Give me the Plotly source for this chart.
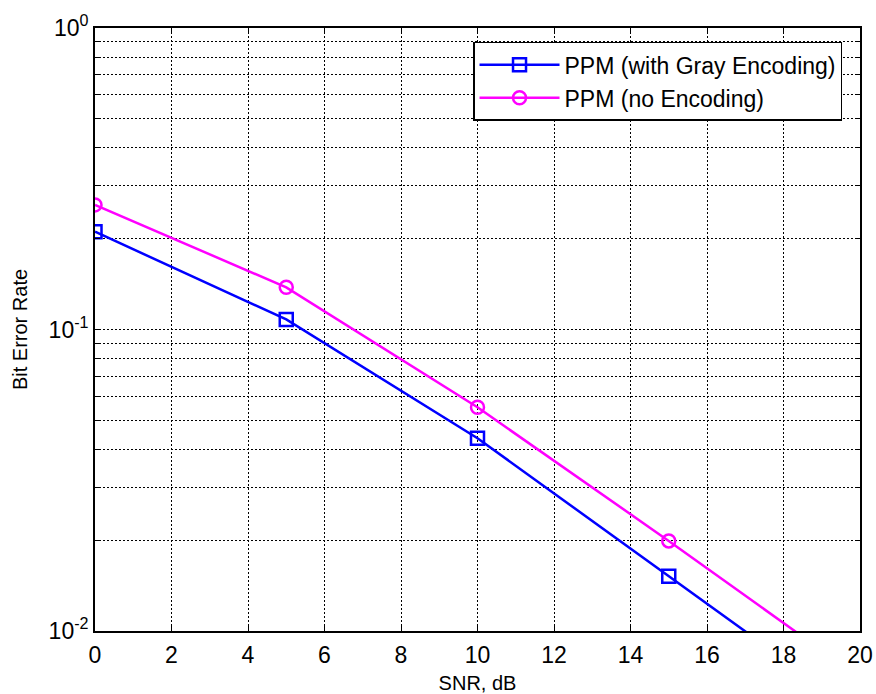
import plotly.graph_objects as go

snr_db = [0, 5, 10, 15, 20]
ber_gray = [0.211, 0.108, 0.0436, 0.0152, 0.0053]
ber_none = [0.259, 0.138, 0.0552, 0.0199, 0.0070]
series_names = ["PPM (with Gray Encoding)", "PPM (no Encoding)"]

y_tickvals = [m * 10 ** e for e in (-2, -1) for m in range(1, 10)] + [1]
y_ticktext = ["10<sup>%d</sup>" % e if m == 1 else "" for e in (-2, -1) for m in range(1, 10)] + ["10<sup>0</sup>"]

fig = go.Figure()
fig.add_trace(go.Scatter(
    x=snr_db, y=ber_gray, name=series_names[0], mode="lines+markers",
    line=dict(color="#0000ff", width=2.5),
    marker=dict(symbol="square-open", size=13, color="#0000ff", line=dict(width=2.5, color="#0000ff")),
))
fig.add_trace(go.Scatter(
    x=snr_db, y=ber_none, name=series_names[1], mode="lines+markers",
    line=dict(color="#ff00ff", width=2.5),
    marker=dict(symbol="circle-open", size=13, color="#ff00ff", line=dict(width=2.5, color="#ff00ff")),
))

axis_common = dict(
    showline=True, linecolor="black", linewidth=1.8, mirror="allticks",
    ticks="inside", ticklen=5, tickcolor="black", tickwidth=1,
    showgrid=True, gridcolor="black", gridwidth=1, griddash="2px,2px",
    zeroline=False, tickfont=dict(size=23, color="black"), automargin=False,
)

fig.update_xaxes(range=[0, 20], tick0=0, dtick=2, ticklabelstandoff=2,
                 title=dict(text="SNR, dB", font=dict(size=20, color="black"), standoff=10),
                 **axis_common)
fig.update_yaxes(type="log", range=[-2, 0], tickvals=y_tickvals, ticktext=y_ticktext,
                 title=dict(text="Bit Error Rate", font=dict(size=20, color="black"), standoff=16),
                 **axis_common)

fig.update_layout(
    width=876, height=694,
    margin=dict(l=95, r=16, t=28, b=63),
    paper_bgcolor="white", plot_bgcolor="white",
    font=dict(family="Liberation Sans, Arial, sans-serif", color="black"),
    legend=dict(x=0.9765, y=0.977, xanchor="right", yanchor="top",
                bgcolor="white", bordercolor="black", borderwidth=1.5,
                font=dict(size=23, color="black"), itemwidth=80,
                tracegroupgap=0),
    showlegend=True,
)

fig.write_html(
    "out.html",
    config={"displayModeBar": False},
    post_script="document.body.style.margin='0';document.body.style.overflow='hidden';",
)
